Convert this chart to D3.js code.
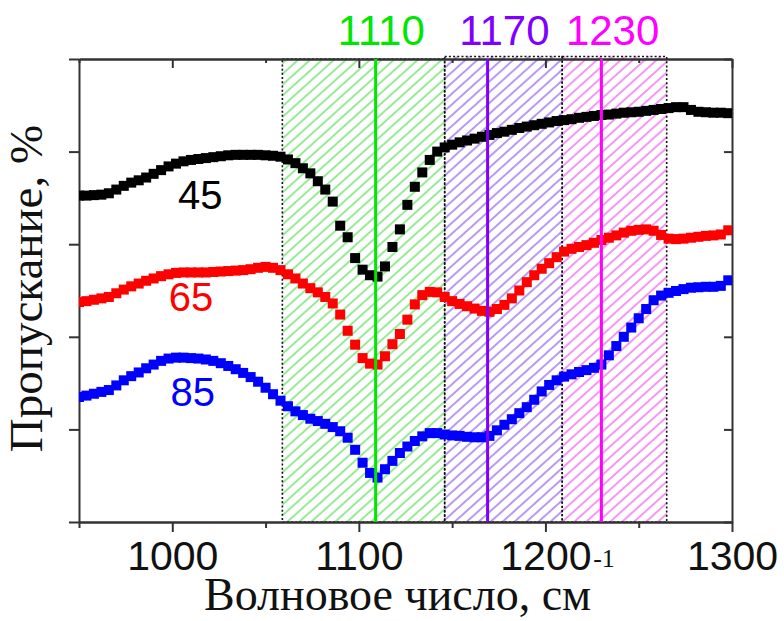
<!DOCTYPE html>
<html>
<head>
<meta charset="utf-8">
<script src="https://cdn.jsdelivr.net/npm/d3@7"></script>
<style>
  body { margin: 0; background: #fff; }
  svg { display: block; }
</style>
</head>
<body>
<svg width="784" height="621"></svg>
<script>
// wavenumber grid, cm-1
var wavenumbers = [
  950, 954, 958, 962, 966, 970, 974, 978, 982, 986, 990, 994, 998,
  1002, 1006, 1010, 1014, 1018, 1022, 1026, 1030, 1034, 1038, 1042, 1046, 1050,
  1054, 1058, 1062, 1066, 1070, 1074, 1078, 1082, 1086, 1090, 1094, 1098,
  1102, 1106, 1110, 1114, 1118, 1122, 1126, 1130, 1134, 1138, 1142, 1146, 1150,
  1154, 1158, 1162, 1166, 1170, 1174, 1178, 1182, 1186, 1190, 1194, 1198,
  1202, 1206, 1210, 1214, 1218, 1222, 1226, 1230, 1234, 1238, 1242, 1246, 1250,
  1254, 1258, 1262, 1266, 1270, 1274, 1278, 1282, 1286, 1290, 1294, 1298
];

// transmission (arb. units, curves are offset)
var t45 = [
  70.5, 70.5, 70.6, 70.7, 71.0, 71.8, 72.6, 73.3, 73.8, 74.4, 75.2, 76.0, 76.8,
  77.4, 77.9, 78.2, 78.4, 78.6, 78.8, 79.0, 79.2, 79.3, 79.3, 79.3, 79.3, 79.2,
  79.1, 78.9, 78.3, 77.5, 76.4, 75.3, 73.6, 71.8, 69.2, 64.0, 61.5, 57.0,
  54.5, 53.3, 53.0, 55.2, 59.4, 63.2, 68.5, 72.4, 75.5, 78.2, 80.0, 80.9, 81.5,
  82.0, 82.4, 82.8, 83.2, 83.6, 84.0, 84.3, 84.7, 85.1, 85.4, 85.7, 86.0,
  86.3, 86.6, 86.8, 87.0, 87.3, 87.5, 87.7, 87.9, 88.0, 88.2, 88.4, 88.5, 88.6,
  88.8, 89.0, 89.2, 89.4, 89.6, 89.6, 89.0, 88.6, 88.5, 88.4, 88.4, 88.3
];
var t65 = [
  47.5, 47.7, 48.0, 48.3, 48.6, 49.4, 50.2, 50.9, 51.5, 52.1, 52.6, 53.1, 53.5,
  53.8, 53.9, 53.9, 53.9, 53.9, 54.0, 54.1, 54.2, 54.3, 54.4, 54.6, 54.9, 55.1,
  54.9, 54.4, 53.5, 52.6, 51.5, 50.5, 49.6, 48.6, 47.2, 44.8, 41.3, 38.3,
  35.4, 34.2, 34.0, 35.8, 38.4, 40.6, 43.7, 47.0, 49.0, 49.7, 49.6, 48.6, 47.7,
  47.1, 46.6, 46.1, 45.6, 45.4, 46.0, 46.9, 48.3, 50.0, 51.8, 53.3, 54.7,
  55.9, 57.2, 58.4, 59.0, 59.4, 59.8, 60.3, 60.9, 61.4, 61.9, 62.5, 62.9, 63.1,
  63.2, 62.9, 62.0, 61.2, 61.1, 61.2, 61.4, 61.6, 61.8, 61.9, 62.1, 63.0
];
var t85 = [
  27.0, 27.3, 27.7, 28.1, 28.5, 29.5, 30.6, 31.5, 32.3, 33.2, 34.0, 34.8, 35.3,
  35.5, 35.5, 35.4, 35.3, 35.1, 34.8, 34.3, 33.7, 33.0, 32.2, 31.3, 30.3, 29.0,
  27.6, 26.2, 25.0, 23.9, 23.1, 22.3, 21.8, 21.2, 20.5, 19.6, 18.2, 15.6,
  12.8, 10.6, 9.6, 11.4, 13.2, 14.9, 16.3, 17.5, 18.5, 19.2, 19.2, 18.9, 18.7,
  18.6, 18.4, 18.3, 18.3, 18.6, 19.8, 21.0, 22.2, 23.5, 24.8, 26.4, 28.2,
  29.6, 30.6, 31.4, 31.9, 32.4, 32.8, 33.3, 34.0, 36.0, 38.0, 40.0, 42.0, 44.0,
  46.0, 47.9, 48.9, 49.5, 49.9, 50.3, 50.6, 50.7, 50.8, 50.8, 51.0, 52.2
];

var seriesNames = ["45", "65", "85"];
var seriesColors = ["#000000", "#ff0000", "#0000ff"];
// where the in-plot labels sit (data coords)
var labelX = [1015, 1010, 1011];
var labelY = [67.5, 45.5, 25];

// absorption bands: shaded ranges and peak lines
var bandStart = [1059, 1146, 1209];
var bandEnd = [1146, 1209, 1265];
var bandPeak = [1109, 1169, 1230];
var bandLabels = ["1110", "1170", "1230"];
var bandLabelX = [1112, 1178, 1236];
var bandLine = ["#00e600", "#8000ff", "#ff00ff"];
var bandHatch = ["#5ee05e", "#9461f0", "#f05ef0"];

var xMajor = [1000, 1100, 1200, 1300];
var xMinor = [950, 1050, 1150, 1250];
var yTicks = [0, 20, 40, 60, 80, 100];

var svg = d3.select("svg"),
    pL = 79, pR = 732, pT = 59, pB = 522;

var x = d3.scaleLinear().domain([950, 1300]).range([pL, pR]),
    y = d3.scaleLinear().domain([0, 100]).range([pB, pT]);

var defs = svg.append("defs");

// "///" hatching
bandHatch.forEach(function(c, i) {
  var p = defs.append("pattern")
      .attr("id", "hatch" + i)
      .attr("patternUnits", "userSpaceOnUse")
      .attr("width", 8)
      .attr("height", 8)
      .attr("patternTransform", "rotate(-42)");
  p.append("line")
      .attr("x1", 0).attr("x2", 8)
      .attr("y1", 4).attr("y2", 4)
      .attr("stroke", c)
      .attr("stroke-width", 1.3);
});

defs.append("clipPath").attr("id", "plotclip")
  .append("rect")
    .attr("x", pL).attr("y", pT)
    .attr("width", pR - pL).attr("height", pB - pT);

// hatched bands
var bands = svg.append("g").attr("class", "bands");
bandStart.forEach(function(b, i) {
  var y0 = i == 0 ? pT : pT - 2.5;
  bands.append("rect")
      .attr("x", x(b))
      .attr("y", y0)
      .attr("width", x(bandEnd[i]) - x(b))
      .attr("height", pB - y0)
      .attr("fill", "url(#hatch" + i + ")");
});
bandStart.forEach(function(b, i) {
  var y0 = i == 0 ? pT : pT - 2.5;
  bands.append("rect")
      .attr("x", x(b))
      .attr("y", y0)
      .attr("width", x(bandEnd[i]) - x(b))
      .attr("height", pB - y0)
      .attr("fill", "none")
      .attr("stroke", "#111")
      .attr("stroke-width", 1.6)
      .attr("stroke-dasharray", "2,2.2");
});

// axes
function noLabels(a) { return a.tickFormat(""); }

svg.append("g")
    .attr("transform", "translate(0," + pB + ")")
    .call(d3.axisBottom(x).tickValues(xMajor).tickSize(10).tickSizeOuter(0).tickFormat(d3.format("d")))
    .call(function(g) {
      g.selectAll("text")
        .attr("font-family", "'Liberation Sans', Arial, sans-serif")
        .attr("font-size", 41)
        .attr("fill", "#111")
        .attr("dy", "0.92em")
        .attr("y", 10);
    });
svg.append("g")
    .attr("transform", "translate(0," + pB + ")")
    .call(noLabels(d3.axisBottom(x).tickValues(xMinor).tickSize(6).tickSizeOuter(0)));

svg.append("g")
    .attr("transform", "translate(0," + pT + ")")
    .call(noLabels(d3.axisTop(x).tickValues(xMajor).tickSize(-9).tickSizeOuter(0)));
svg.append("g")
    .attr("transform", "translate(0," + pT + ")")
    .call(noLabels(d3.axisTop(x).tickValues(xMinor).tickSize(-4).tickSizeOuter(0)));

svg.append("g")
    .attr("transform", "translate(" + pL + ",0)")
    .call(noLabels(d3.axisLeft(y).tickValues(yTicks).tickSize(10).tickSizeOuter(0)));

svg.append("g")
    .attr("transform", "translate(" + pR + ",0)")
    .call(noLabels(d3.axisRight(y).tickValues(yTicks).tickSize(-8).tickSizeOuter(0)));

svg.selectAll(".domain, .tick line")
    .attr("stroke", "#333")
    .attr("stroke-width", 2);

// data, square markers
var plot = svg.append("g").attr("clip-path", "url(#plotclip)");
var series = [t45, t65, t85];
var ms = 10;

series.forEach(function(vals, i) {
  plot.append("g")
    .selectAll("rect")
    .data(vals)
    .enter().append("rect")
      .attr("x", function(d, j) { return x(wavenumbers[j]) - ms / 2; })
      .attr("y", function(d) { return y(d) - ms / 2; })
      .attr("width", ms)
      .attr("height", ms)
      .attr("fill", seriesColors[i]);
});

// peak lines on top
bandPeak.forEach(function(p, i) {
  svg.append("line")
      .attr("x1", x(p)).attr("x2", x(p))
      .attr("y1", pT).attr("y2", pB)
      .attr("stroke", bandLine[i])
      .attr("stroke-width", 3);
});

svg.selectAll(".bandlabel")
  .data(bandLabels)
  .enter().append("text")
    .attr("class", "bandlabel")
    .attr("x", function(d, i) { return x(bandLabelX[i]); })
    .attr("y", 45)
    .attr("text-anchor", "middle")
    .attr("font-family", "'Liberation Sans', Arial, sans-serif")
    .attr("font-size", 42)
    .attr("fill", function(d, i) { return bandLine[i]; })
    .text(function(d) { return d; });

svg.selectAll(".serieslabel")
  .data(seriesNames)
  .enter().append("text")
    .attr("class", "serieslabel")
    .attr("x", function(d, i) { return x(labelX[i]); })
    .attr("y", function(d, i) { return y(labelY[i]); })
    .attr("text-anchor", "middle")
    .attr("font-family", "'Liberation Sans', Arial, sans-serif")
    .attr("font-size", 40)
    .attr("fill", function(d, i) { return seriesColors[i]; })
    .text(function(d) { return d; });

// axis titles
var xt = svg.append("text")
    .attr("x", 204)
    .attr("y", 610)
    .attr("font-family", "'Liberation Serif', 'Times New Roman', serif")
    .attr("font-size", 46)
    .attr("fill", "#111");
xt.append("tspan").text("Волновое число, см");
xt.append("tspan").attr("dx", 2).attr("dy", -43).attr("font-size", 26).text("-1");

svg.append("text")
    .attr("transform", "translate(42," + ((pT + pB) / 2 - 2) + ")rotate(-90)")
    .attr("text-anchor", "middle")
    .attr("font-family", "'Liberation Serif', 'Times New Roman', serif")
    .attr("font-size", 47)
    .attr("fill", "#111")
    .text("Пропускание, %");
</script>
</body>
</html>
